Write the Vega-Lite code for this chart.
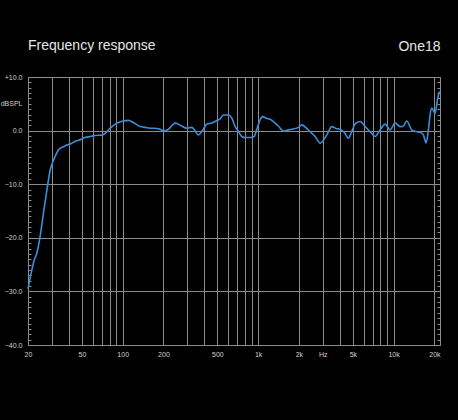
{
  "$schema": "https://vega.github.io/schema/vega-lite/v6.json",
  "width": 412,
  "height": 268,
  "autosize": "none",
  "padding": {"left": 28, "top": 77, "right": 18, "bottom": 75},
  "background": "#000000",
  "config": {"view": {"stroke": "#8c8c8c", "strokeWidth": 1}, "font": "Liberation Sans"},
  "title": {"text": "Frequency response", "anchor": "start", "frame": "group", "color": "#e6e6e6", "fontSize": 14, "fontWeight": "normal", "font": "Liberation Sans", "baseline": "alphabetic", "offset": 0, "dy": 25},
  "data": {"values": [
    {"freq": 20, "db": -29.5}, {"freq": 21.4, "db": -25.9}, {"freq": 22.2, "db": -24.2}, {"freq": 23.3, "db": -22.8},
    {"freq": 24.6, "db": -19.7}, {"freq": 26.0, "db": -15.4}, {"freq": 27.6, "db": -11.0}, {"freq": 29.2, "db": -7.3},
    {"freq": 30.9, "db": -5.5}, {"freq": 33.6, "db": -3.6}, {"freq": 36.6, "db": -3.0}, {"freq": 38.7, "db": -2.7},
    {"freq": 41.0, "db": -2.5}, {"freq": 44.6, "db": -2.0}, {"freq": 48.6, "db": -1.7}, {"freq": 51.4, "db": -1.4},
    {"freq": 57.6, "db": -1.1}, {"freq": 62.7, "db": -0.9}, {"freq": 70.2, "db": -0.85}, {"freq": 74.3, "db": -0.5},
    {"freq": 80.9, "db": 0.45}, {"freq": 90.6, "db": 1.4}, {"freq": 101, "db": 1.8}, {"freq": 110, "db": 1.9},
    {"freq": 120, "db": 1.5}, {"freq": 135, "db": 0.75}, {"freq": 147, "db": 0.6}, {"freq": 160, "db": 0.45},
    {"freq": 179, "db": 0.4}, {"freq": 189, "db": 0.26}, {"freq": 200, "db": -0.05}, {"freq": 218, "db": 0.25},
    {"freq": 244, "db": 1.4}, {"freq": 266, "db": 1.0}, {"freq": 298, "db": 0.45}, {"freq": 324, "db": 0.6},
    {"freq": 337, "db": 0.2}, {"freq": 362, "db": -0.8}, {"freq": 395, "db": 0.3}, {"freq": 418, "db": 1.25},
    {"freq": 455, "db": 1.4}, {"freq": 496, "db": 1.9}, {"freq": 524, "db": 2.2}, {"freq": 554, "db": 2.9},
    {"freq": 604, "db": 2.9}, {"freq": 640, "db": 2.3}, {"freq": 677, "db": 0.75}, {"freq": 716, "db": -0.2},
    {"freq": 758, "db": -1.1}, {"freq": 802, "db": -1.3}, {"freq": 873, "db": -1.3}, {"freq": 934, "db": -1.1},
    {"freq": 978, "db": 0.3}, {"freq": 1034, "db": 2.0}, {"freq": 1079, "db": 2.6}, {"freq": 1145, "db": 2.3},
    {"freq": 1226, "db": 2.1}, {"freq": 1335, "db": 1.4}, {"freq": 1405, "db": 0.9}, {"freq": 1537, "db": -0.1},
    {"freq": 1673, "db": 0.13}, {"freq": 1812, "db": 0.3}, {"freq": 1983, "db": 0.6}, {"freq": 2101, "db": 1.06},
    {"freq": 2260, "db": 0.5}, {"freq": 2419, "db": -0.2}, {"freq": 2634, "db": -1.1}, {"freq": 2868, "db": -2.35},
    {"freq": 3214, "db": -0.8}, {"freq": 3500, "db": 0.75}, {"freq": 3764, "db": 0.4}, {"freq": 4028, "db": 0.26},
    {"freq": 4312, "db": -0.3}, {"freq": 4638, "db": -1.4}, {"freq": 4940, "db": 0.0}, {"freq": 5198, "db": 1.25},
    {"freq": 5660, "db": 1.7}, {"freq": 6163, "db": 0.75}, {"freq": 6707, "db": -0.2}, {"freq": 7302, "db": -1.1},
    {"freq": 7948, "db": 0.13}, {"freq": 8654, "db": 1.2}, {"freq": 9422, "db": 0.13}, {"freq": 10258, "db": 1.4},
    {"freq": 11168, "db": 0.75}, {"freq": 11750, "db": 0.8}, {"freq": 12512, "db": 1.8}, {"freq": 13622, "db": 0.1},
    {"freq": 14830, "db": -0.2}, {"freq": 15686, "db": -0.3}, {"freq": 16590, "db": -0.8}, {"freq": 17370, "db": -2.3},
    {"freq": 18064, "db": 0.13}, {"freq": 18592, "db": 3.0}, {"freq": 19136, "db": 4.2}, {"freq": 20238, "db": 3.2},
    {"freq": 21046, "db": 5.7}, {"freq": 21774, "db": 7.3}
  ]},
  "layer": [
    {
      "mark": {"type": "line", "color": "#3b8fd9", "strokeWidth": 1.6, "interpolate": "monotone"},
      "encoding": {
        "x": {
          "field": "freq", "type": "quantitative",
          "scale": {"type": "log", "domain": [20, 22000], "nice": false},
          "axis": {
            "orient": "bottom",
            "values": [20, 30, 40, 50, 60, 70, 80, 90, 100, 200, 300, 400, 500, 600, 700, 800, 900, 1000, 2000, 3000, 4000, 5000, 6000, 7000, 8000, 9000, 10000, 20000],
            "labelExpr": "datum.value == 20 ? '20' : datum.value == 50 ? '50' : datum.value == 100 ? '100' : datum.value == 200 ? '200' : datum.value == 500 ? '500' : datum.value == 1000 ? '1k' : datum.value == 2000 ? '2k' : datum.value == 3000 ? 'Hz' : datum.value == 5000 ? '5k' : datum.value == 10000 ? '10k' : datum.value == 20000 ? '20k' : ''",
            "ticks": false, "domain": false, "grid": true, "gridColor": "#8c8c8c", "gridWidth": 1,
            "labelColor": "#d0d0d0", "labelFontSize": 7, "labelPadding": 5, "labelFlush": false, "labelOverlap": false,
            "labelFont": "Liberation Sans", "title": null
          }
        },
        "y": {
          "field": "db", "type": "quantitative",
          "scale": {"domain": [-40, 10], "nice": false},
          "axis": {
            "orient": "left",
            "values": [-40, -39, -38, -37, -36, -35, -34, -33, -32, -31, -30, -29, -28, -27, -26, -25, -24, -23, -22, -21, -20, -19, -18, -17, -16, -15, -14, -13, -12, -11, -10, -9, -8, -7, -6, -5, -4, -3, -2, -1, 0, 1, 2, 3, 4, 5, 6, 7, 8, 9, 10],
            "labelExpr": "datum.value == 5 ? 'dBSPL' : (datum.value % 10 == 0 ? (datum.value > 0 ? '+' : '') + format(datum.value, '.1f') : '')",
            "grid": true, "gridColor": "#8c8c8c",
            "gridOpacity": {"condition": {"test": "datum.value % 10 == 0", "value": 1}, "value": 0},
            "ticks": true, "tickSize": -3, "tickColor": "#8c8c8c", "domain": false,
            "labelColor": "#d0d0d0", "labelFontSize": 7, "labelPadding": 9, "labelOverlap": false, "labelFlush": false,
            "labelFont": "Liberation Sans", "title": null
          }
        }
      }
    },
    {
      "mark": {"type": "line", "opacity": 0},
      "encoding": {
        "x": {
          "field": "freq", "type": "quantitative",
          "axis": {
            "orient": "top", "labels": false, "ticks": false, "domain": false, "grid": false,
            "title": "One18", "titleAnchor": "end", "titleAlign": "right", "titleBaseline": "alphabetic",
            "titleFont": "Liberation Sans", "titleFontSize": 14, "titleFontWeight": "normal", "titleColor": "#e6e6e6",
            "titlePadding": 27
          }
        },
        "y": {
          "field": "db", "type": "quantitative",
          "axis": {
            "orient": "right",
            "values": [-40, -39, -38, -37, -36, -35, -34, -33, -32, -31, -30, -29, -28, -27, -26, -25, -24, -23, -22, -21, -20, -19, -18, -17, -16, -15, -14, -13, -12, -11, -10, -9, -8, -7, -6, -5, -4, -3, -2, -1, 0, 1, 2, 3, 4, 5, 6, 7, 8, 9, 10],
            "labels": false, "grid": false, "domain": false, "ticks": true, "tickSize": -3, "tickColor": "#8c8c8c", "title": null
          }
        }
      }
    }
  ],
  "resolve": {"axis": {"x": "independent", "y": "independent"}}
}
